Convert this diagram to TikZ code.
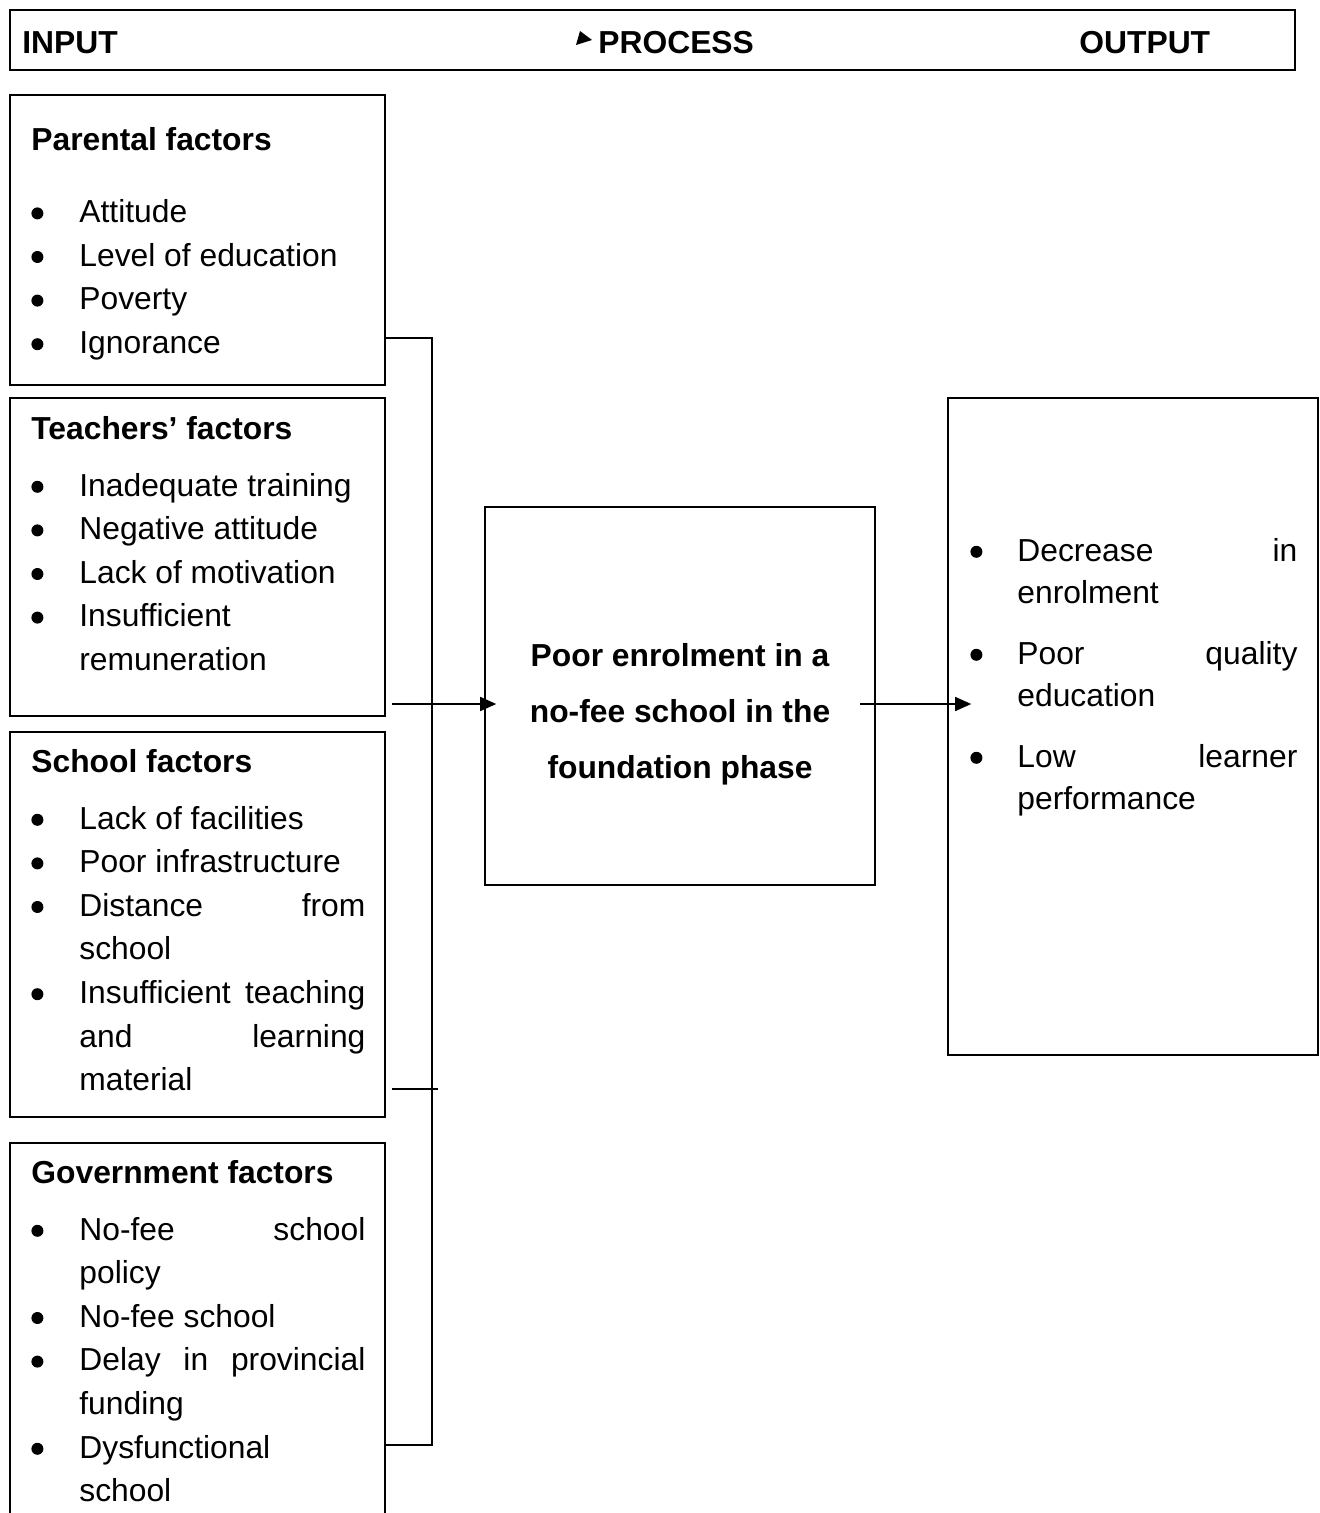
\documentclass[tikz,border=0pt]{standalone}
\usepackage{fontspec}
\setmainfont{Liberation Sans}
\usetikzlibrary{arrows.meta,positioning,fit,calc}
\newcommand{\bul}{\tikz[baseline={(0,-4.6pt)}]\fill (0,0) circle (3pt);}
\newcommand{\itm}[1]{\bul & #1}

\begin{document}
\begin{tikzpicture}[x=0.5pt,y=-0.5pt,
      font=\fontsize{15.9}{21.8}\selectfont,
      panel/.style={draw,line width=0.8pt,inner sep=0pt},
      txt/.style={anchor=base west,inner sep=0pt},
      ar/.style={-{Triangle[length=8pt,width=7pt]},line width=0.8pt}]
      \useasboundingbox (0,0) rectangle (1319,1513);
      \clip (0,0) rectangle (1319,1513);
      % header
      \node[panel,fit={(10,10) (1295,70)}] (head) {};
      \node[txt] (hin) at (22,54) {\textbf{INPUT}};
      \node[txt] (hpr) at (598,54) {\textbf{PROCESS}};
      \node[txt] (hout) at (1079,54) {\textbf{OUTPUT}};
      \fill (576,45) -- (580,31) -- (592,40) -- cycle;
      % input boxes
      \node[panel,fit={(10,95) (385,385)}] (par) {};
      \node[panel,fit={(10,398) (385,716)}] (tea) {};
      \node[panel,fit={(10,732) (385,1117)}] (sch) {};
      \node[panel,fit={(10,1143) (385,1560)}] (gov) {};
      \node[txt] (partxt) at (31,151) {\begin{tabular}[t]{@{}p{24pt}@{}p{143pt}@{}}
        \multicolumn{2}{@{}l@{}}{\textbf{Parental factors}}\\[14pt]
        \itm{Attitude}\\
        \itm{Level of education}\\
        \itm{Poverty}\\
        \itm{Ignorance}
      \end{tabular}};
      \node[txt] (teatxt) at (31,439) {\begin{tabular}[t]{@{}p{24pt}@{}p{143pt}@{}}
        \multicolumn{2}{@{}l@{}}{\textbf{Teachers’ factors}}\\[6.7pt]
        \itm{Inadequate training}\\
        \itm{Negative attitude}\\
        \itm{Lack of motivation}\\
        \itm{Insufficient\newline remuneration}
      \end{tabular}};
      \node[txt] (schtxt) at (31,772) {\begin{tabular}[t]{@{}p{24pt}@{}p{143pt}@{}}
        \multicolumn{2}{@{}l@{}}{\textbf{School factors}}\\[6.7pt]
        \itm{Lack of facilities}\\
        \itm{Poor infrastructure}\\
        \itm{Distance\hfill from\newline school}\\
        \itm{Insufficient\hfill teaching\newline and\hfill learning\newline material}
      \end{tabular}};
      \node[txt] (govtxt) at (31,1183) {\begin{tabular}[t]{@{}p{24pt}@{}p{143pt}@{}}
        \multicolumn{2}{@{}l@{}}{\textbf{Government factors}}\\[6.7pt]
        \itm{No-fee\hfill school\newline policy}\\
        \itm{No-fee school}\\
        \itm{Delay\hfill in\hfill provincial\newline funding}\\
        \itm{Dysfunctional\newline school}
      \end{tabular}};
      % process and output
      \node[panel,fit={(485,507) (875,885)}] (proc) {};
      \node[align=center,inner sep=0pt,font=\fontsize{15.9}{28}\selectfont\bfseries]
        (proctxt) at (680,714) {Poor enrolment in a\\no-fee school in the\\foundation phase};
      \node[panel,fit={(948,398) (1318,1055)}] (out) {};
      \node[txt,font=\fontsize{15.9}{21}\selectfont] (outtxt) at (970,561) {\begin{tabular}[t]{@{}p{23.5pt}@{}p{140pt}@{}}
        \itm{Decrease\hfill in\newline enrolment}\\[9.5pt]
        \itm{Poor\hfill quality\newline education}\\[9.5pt]
        \itm{Low\hfill learner\newline performance}
      \end{tabular}};
      % connectors
      \coordinate (bt) at (432,338);
      \coordinate (bb) at (432,1445);
      \coordinate (a1) at (392,704);
      \coordinate (a2) at (860,704);
      \coordinate (st) at (392,1089);
      \draw[line width=0.8pt] (par.east |- bt) -- (bt) -- (bb) -- (gov.east |- bb);
      \draw[line width=0.8pt] (st) -- ($(bt |- st)+(6,0)$);
      \draw[ar] (a1) -- ($(proc.west |- a1)+(12,0)$);
      \draw[ar] (a2) -- ($(out.west |- a2)+(24,0)$);
\end{tikzpicture}
\end{document}
